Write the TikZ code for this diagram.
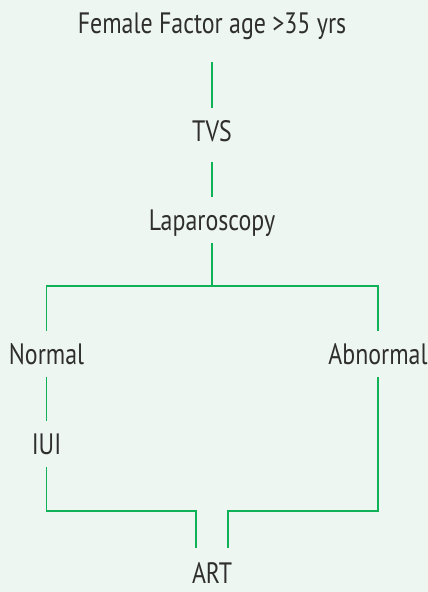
\documentclass[tikz,border=0pt]{standalone}
\usepackage{fontspec}
\setmainfont{PT Sans}[FakeStretch=0.81]
\definecolor{bg}{HTML}{EEF6F1}
\definecolor{ln}{HTML}{10B257}
\definecolor{tx}{HTML}{2E2E2E}
\begin{document}
\begin{tikzpicture}[x=1pt,y=-1pt,
  lbl/.style={inner xsep=0pt,inner ysep=13pt,text height=20pt,text depth=0pt,anchor=base,
    font=\fontsize{29.5}{32}\selectfont,text=tx},
  conn/.style={draw=ln,line width=1.3pt}]
\fill[bg] (0,0) rectangle (428,592);
\useasboundingbox (0,0) rectangle (428,592);
\node[lbl] (title) at (212,33) {Female Factor age >35 yrs};
\node[lbl] (tvs) at (212,141) {TVS};
\node[lbl] (lap) at (212,230) {Laparoscopy};
\node[lbl] (normal) at (46.5,364) {Normal};
\node[lbl] (abn) at (378,364) {Abnormal};
\node[lbl] (iui) at (46.5,454) {IUI};
\node[lbl,inner ysep=2pt] (art) at (212,583) {ART};
\coordinate (split) at (212,286);
\coordinate (jl) at (196,511);
\coordinate (jr) at (228,511);
\draw[conn,shorten <=16pt] (title.south) -- (tvs.north);
\draw[conn,shorten <=8pt] (tvs.south) -- (lap.north);
\draw[conn] (lap.south) -- (split);
\draw[conn] (normal.north) |- (split) -| (abn.north);
\draw[conn] (normal.south) -- (iui.north);
\draw[conn,shorten >=13pt] (iui.south) |- (jl) -- (jl |- art.north);
\draw[conn,shorten >=13pt] (abn.south) |- (jr) -- (jr |- art.north);
\end{tikzpicture}
\end{document}
